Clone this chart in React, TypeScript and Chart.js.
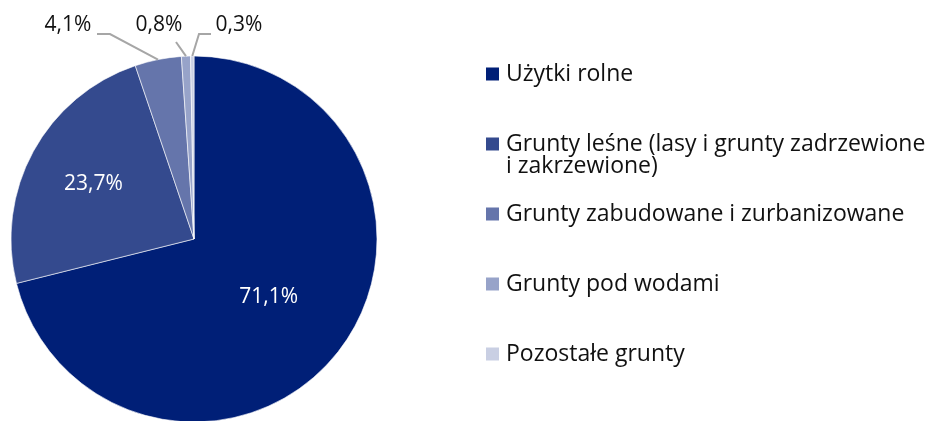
import React, { useEffect, useRef } from "react";
import { Chart, registerables } from "chart.js";

Chart.register(...registerables);

const categories = [
  "Użytki rolne",
  "Grunty leśne (lasy i grunty zadrzewione i zakrzewione)",
  "Grunty zabudowane i zurbanizowane",
  "Grunty pod wodami",
  "Pozostałe grunty",
];
const shares = [71.1, 23.7, 4.1, 0.8, 0.3];
const colors = ["#001F77", "#344A8E", "#6575AB", "#97A3C9", "#C9CFE3"];

const fmt = (v: number) => v.toFixed(1).replace(".", ",") + "%";

const FONT = '"Open Sans", "Noto Sans", sans-serif';

const labelPlugin = {
  id: "customLabels",
  afterDatasetsDraw(chart: any) {
    const ctx = chart.ctx as CanvasRenderingContext2D;
    const meta = chart.getDatasetMeta(0);
    const data = chart.data.datasets[0].data as number[];
    ctx.save();
    ctx.font = `21px ${FONT}`;
    ctx.textBaseline = "middle";
    ctx.textAlign = "center";
    const insideR = [0.518, 0.626];
    const outside: Record<number, { tx: number; ty: number; path: [number, number][] }> = {
      2: { tx: 68, ty: 25, path: [[97, 34], [110, 34]] },
      3: { tx: 159, ty: 25, path: [[176, 42]] },
      4: { tx: 239, ty: 25, path: [[211, 34], [199, 34]] },
    };
    meta.data.forEach((arc: any, i: number) => {
      const { x, y, startAngle, endAngle, outerRadius } = arc.getProps(
        ["x", "y", "startAngle", "endAngle", "outerRadius"],
        true
      );
      const mid = (startAngle + endAngle) / 2;
      const text = fmt(data[i]);
      if (i < 2) {
        const r = outerRadius * insideR[i];
        ctx.fillStyle = "#ffffff";
        ctx.fillText(text, x + Math.cos(mid) * r, y + Math.sin(mid) * r);
      } else {
        const o = outside[i];
        const ex = x + Math.cos(mid) * outerRadius;
        const ey = y + Math.sin(mid) * outerRadius;
        ctx.strokeStyle = "#A6A6A6";
        ctx.lineWidth = 2;
        ctx.beginPath();
        ctx.moveTo(o.path[0][0], o.path[0][1]);
        for (let k = 1; k < o.path.length; k++) ctx.lineTo(o.path[k][0], o.path[k][1]);
        ctx.lineTo(ex, ey);
        ctx.stroke();
        ctx.fillStyle = "#111111";
        ctx.fillText(text, o.tx, o.ty);
      }
    });
    ctx.restore();
  },
};

const legendPlugin = {
  id: "customLegend",
  afterDraw(chart: any) {
    const ctx = chart.ctx as CanvasRenderingContext2D;
    const labels = chart.data.labels as string[];
    const bg = chart.data.datasets[0].backgroundColor as string[];
    ctx.save();
    ctx.font = `23px ${FONT}`;
    ctx.textBaseline = "middle";
    ctx.textAlign = "left";
    const boxX = 486;
    const textX = 506;
    const maxW = chart.width - textX - 2;
    const lineH = 22;
    labels.forEach((lab, i) => {
      const cy = 74 + i * 70;
      ctx.fillStyle = bg[i];
      ctx.fillRect(boxX, cy - 6.5, 13, 13);
      const words = lab.split(" ");
      const lines: string[] = [];
      let cur = "";
      for (const w of words) {
        const test = cur ? cur + " " + w : w;
        if (ctx.measureText(test).width > maxW && cur) {
          lines.push(cur);
          cur = w;
        } else cur = test;
      }
      if (cur) lines.push(cur);
      ctx.fillStyle = "#111111";
      lines.forEach((ln, k) => ctx.fillText(ln, textX, cy + k * lineH));
    });
    ctx.restore();
  },
};

export default function App() {
  const ref = useRef<HTMLCanvasElement | null>(null);
  useEffect(() => {
    document.body.style.margin = "0";
    const chart = new Chart(ref.current as HTMLCanvasElement, {
      type: "pie",
      data: {
        labels: categories,
        datasets: [
          {
            data: shares,
            backgroundColor: colors,
            borderColor: "#ffffff",
            borderWidth: 0.6,
          },
        ],
      },
      options: {
        responsive: false,
        animation: false,
        radius: 183,
        layout: { padding: { top: 57, bottom: -2, left: 11, right: 557 } },
        plugins: { legend: { display: false }, tooltip: { enabled: false } },
      } as any,
      plugins: [labelPlugin, legendPlugin],
    });
    return () => chart.destroy();
  }, []);
  return (
    <div style={{ width: 934, height: 421 }}>
      <canvas ref={ref} width={934} height={421} style={{ display: "block" }} />
    </div>
  );
}
